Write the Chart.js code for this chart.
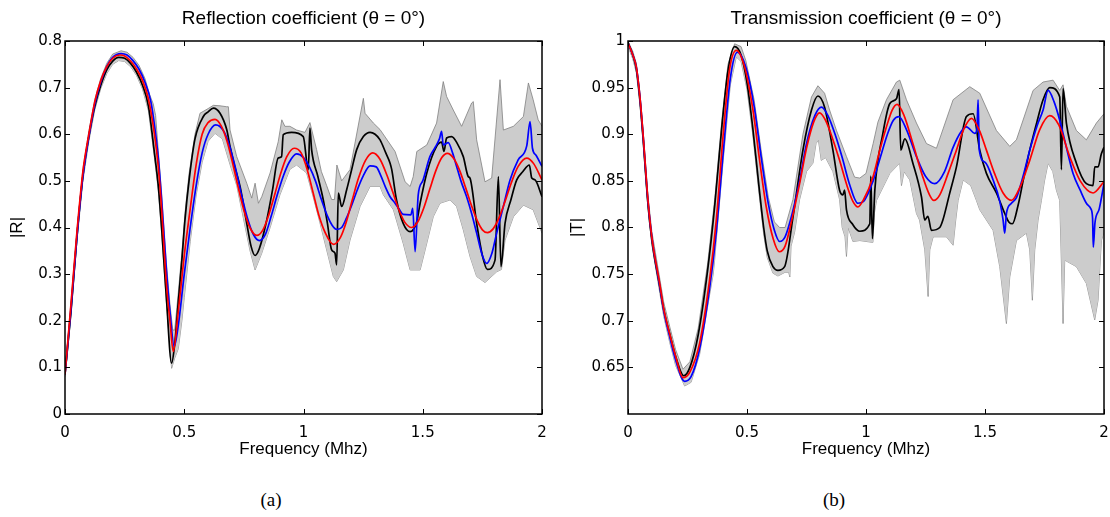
<!DOCTYPE html>
<html>
<head>
<meta charset="utf-8">
<script src="https://cdn.jsdelivr.net/npm/chart.js@4.4.1/dist/chart.umd.min.js"></script>
<style>
  body { margin: 0; background: #fff; width: 1110px; height: 517px; position: relative; overflow: hidden; }
  canvas { position: absolute; top: 0; }
  #reflChart { left: 0; }
  #transChart { left: 555px; }
  .caption { position: absolute; top: 489px; width: 100px; text-align: center;
    font-family: "Liberation Serif", "Times New Roman", serif; font-size: 19px; color: #000; }
</style>
</head>
<body>
<canvas id="reflChart" width="555" height="470"></canvas>
<canvas id="transChart" width="555" height="470"></canvas>
<div class="caption" style="left:221px">(a)</div>
<div class="caption" style="left:784px">(b)</div>
<script>
// tick values
const freqTicks = [0, 0.5, 1, 1.5, 2];
const reflTicks = [0, 0.1, 0.2, 0.3, 0.4, 0.5, 0.6, 0.7, 0.8];
const transTicks = [0.65, 0.7, 0.75, 0.8, 0.85, 0.9, 0.95, 1];

// |R| curves, [frequency MHz, value]
const reflRed = [[0,0.085],[0.025,0.235],[0.05,0.39],[0.075,0.52],[0.1,0.6],[0.125,0.67],[0.15,0.715],[0.175,0.745],[0.2,0.763],[0.23,0.77],[0.25,0.768],[0.275,0.757],[0.3,0.74],[0.325,0.715],[0.35,0.675],[0.375,0.6],[0.391,0.531],[0.405,0.44],[0.425,0.28],[0.44,0.2],[0.454,0.134],[0.475,0.22],[0.5,0.34],[0.525,0.44],[0.55,0.535],[0.575,0.6],[0.6,0.625],[0.629,0.632],[0.655,0.618],[0.68,0.584],[0.7,0.544],[0.725,0.489],[0.75,0.437],[0.775,0.4],[0.804,0.383],[0.83,0.395],[0.855,0.428],[0.88,0.472],[0.905,0.517],[0.93,0.552],[0.961,0.57],[0.99,0.56],[1.015,0.525],[1.04,0.475],[1.065,0.425],[1.09,0.39],[1.125,0.364],[1.155,0.379],[1.18,0.413],[1.205,0.46],[1.23,0.505],[1.26,0.544],[1.29,0.56],[1.32,0.547],[1.35,0.512],[1.375,0.475],[1.4,0.438],[1.425,0.411],[1.453,0.4],[1.48,0.413],[1.505,0.443],[1.53,0.483],[1.555,0.522],[1.58,0.55],[1.603,0.559],[1.63,0.548],[1.655,0.522],[1.68,0.485],[1.705,0.446],[1.73,0.413],[1.75,0.395],[1.771,0.389],[1.795,0.397],[1.82,0.421],[1.845,0.456],[1.87,0.494],[1.9,0.531],[1.936,0.549],[1.965,0.537],[2,0.502]];
const reflBlue = [[0,0.085],[0.025,0.225],[0.05,0.38],[0.075,0.51],[0.1,0.595],[0.125,0.665],[0.15,0.712],[0.175,0.745],[0.2,0.765],[0.235,0.773],[0.26,0.77],[0.285,0.758],[0.31,0.74],[0.335,0.712],[0.36,0.67],[0.375,0.62],[0.391,0.55],[0.405,0.46],[0.425,0.31],[0.44,0.22],[0.458,0.145],[0.475,0.19],[0.5,0.3],[0.525,0.4],[0.55,0.49],[0.575,0.56],[0.6,0.6],[0.632,0.62],[0.665,0.607],[0.69,0.575],[0.715,0.527],[0.74,0.47],[0.765,0.42],[0.79,0.385],[0.815,0.372],[0.84,0.385],[0.865,0.425],[0.89,0.47],[0.915,0.51],[0.94,0.54],[0.971,0.558],[1,0.55],[1.025,0.53],[1.05,0.5],[1.075,0.46],[1.1,0.425],[1.12,0.405],[1.139,0.396],[1.16,0.4],[1.18,0.42],[1.2,0.445],[1.225,0.48],[1.25,0.51],[1.279,0.532],[1.305,0.53],[1.325,0.51],[1.345,0.485],[1.363,0.466],[1.384,0.452],[1.4,0.44],[1.418,0.428],[1.45,0.427],[1.458,0.441],[1.468,0.348],[1.481,0.47],[1.5,0.5],[1.53,0.552],[1.55,0.57],[1.57,0.59],[1.579,0.606],[1.586,0.577],[1.607,0.582],[1.625,0.56],[1.642,0.531],[1.66,0.5],[1.684,0.466],[1.705,0.43],[1.726,0.388],[1.75,0.34],[1.768,0.323],[1.79,0.345],[1.81,0.388],[1.838,0.445],[1.866,0.502],[1.9,0.545],[1.936,0.575],[1.95,0.627],[1.96,0.57],[1.975,0.555],[2,0.531]];
const reflBlack = [[0,0.085],[0.025,0.22],[0.05,0.38],[0.075,0.51],[0.1,0.595],[0.125,0.66],[0.15,0.705],[0.175,0.738],[0.2,0.757],[0.225,0.765],[0.25,0.763],[0.275,0.752],[0.3,0.733],[0.325,0.705],[0.35,0.66],[0.375,0.56],[0.391,0.49],[0.405,0.4],[0.425,0.25],[0.447,0.109],[0.46,0.15],[0.475,0.24],[0.49,0.33],[0.503,0.416],[0.52,0.5],[0.545,0.59],[0.58,0.638],[0.6,0.648],[0.622,0.656],[0.65,0.645],[0.678,0.61],[0.692,0.574],[0.712,0.53],[0.734,0.488],[0.762,0.409],[0.78,0.36],[0.797,0.34],[0.815,0.355],[0.846,0.416],[0.87,0.48],[0.894,0.549],[0.908,0.552],[0.915,0.599],[0.95,0.604],[0.999,0.595],[1.02,0.524],[1.027,0.613],[1.034,0.567],[1.06,0.51],[1.083,0.459],[1.1,0.41],[1.118,0.352],[1.132,0.345],[1.139,0.32],[1.146,0.474],[1.16,0.445],[1.181,0.481],[1.2,0.52],[1.223,0.567],[1.251,0.595],[1.279,0.604],[1.3,0.6],[1.321,0.588],[1.345,0.56],[1.363,0.538],[1.37,0.524],[1.39,0.459],[1.418,0.409],[1.447,0.391],[1.475,0.413],[1.489,0.452],[1.517,0.517],[1.558,0.574],[1.579,0.583],[1.589,0.563],[1.6,0.592],[1.621,0.595],[1.645,0.58],[1.67,0.552],[1.691,0.509],[1.698,0.506],[1.726,0.409],[1.75,0.34],[1.771,0.31],[1.803,0.33],[1.817,0.509],[1.828,0.316],[1.845,0.409],[1.87,0.46],[1.894,0.502],[1.92,0.52],[1.947,0.534],[1.957,0.506],[1.971,0.502],[2,0.466]];
const reflUpper = [[0,0.09],[0.025,0.24],[0.05,0.395],[0.075,0.525],[0.1,0.607],[0.125,0.675],[0.15,0.72],[0.175,0.752],[0.2,0.772],[0.235,0.779],[0.26,0.776],[0.285,0.765],[0.31,0.748],[0.335,0.72],[0.355,0.685],[0.37,0.665],[0.38,0.64],[0.391,0.565],[0.405,0.475],[0.425,0.325],[0.44,0.235],[0.452,0.18],[0.46,0.18],[0.475,0.26],[0.49,0.345],[0.503,0.43],[0.52,0.515],[0.545,0.6],[0.566,0.645],[0.6,0.655],[0.622,0.662],[0.65,0.661],[0.678,0.659],[0.685,0.659],[0.692,0.609],[0.72,0.552],[0.762,0.495],[0.783,0.463],[0.797,0.495],[0.811,0.452],[0.825,0.466],[0.86,0.517],[0.894,0.584],[0.909,0.631],[0.922,0.617],[0.943,0.617],[0.971,0.609],[1.006,0.604],[1.027,0.625],[1.055,0.567],[1.075,0.52],[1.097,0.49],[1.118,0.46],[1.13,0.46],[1.14,0.534],[1.16,0.5],[1.195,0.524],[1.251,0.677],[1.258,0.645],[1.293,0.624],[1.321,0.61],[1.384,0.563],[1.426,0.498],[1.447,0.488],[1.46,0.509],[1.475,0.563],[1.517,0.577],[1.558,0.624],[1.586,0.713],[1.6,0.681],[1.628,0.652],[1.663,0.617],[1.705,0.667],[1.712,0.67],[1.726,0.588],[1.761,0.498],[1.789,0.506],[1.824,0.717],[1.838,0.609],[1.88,0.617],[1.922,0.638],[1.943,0.71],[1.963,0.674],[1.984,0.631],[2,0.617]];
const reflLower = [[0,0.08],[0.025,0.21],[0.05,0.37],[0.075,0.5],[0.1,0.585],[0.125,0.653],[0.15,0.698],[0.175,0.73],[0.2,0.75],[0.225,0.758],[0.25,0.756],[0.275,0.745],[0.3,0.726],[0.325,0.697],[0.35,0.65],[0.375,0.55],[0.391,0.48],[0.405,0.39],[0.425,0.24],[0.447,0.098],[0.46,0.12],[0.475,0.14],[0.49,0.2],[0.5,0.25],[0.525,0.37],[0.55,0.47],[0.575,0.54],[0.6,0.585],[0.629,0.602],[0.66,0.59],[0.692,0.535],[0.72,0.49],[0.748,0.42],[0.776,0.35],[0.797,0.309],[0.825,0.345],[0.86,0.4],[0.901,0.47],[0.943,0.525],[0.971,0.534],[1.013,0.517],[1.041,0.465],[1.069,0.41],[1.104,0.338],[1.125,0.295],[1.139,0.284],[1.167,0.309],[1.195,0.373],[1.237,0.445],[1.279,0.488],[1.321,0.488],[1.335,0.47],[1.377,0.438],[1.418,0.366],[1.447,0.309],[1.489,0.309],[1.51,0.352],[1.544,0.423],[1.572,0.452],[1.614,0.459],[1.642,0.445],[1.67,0.395],[1.698,0.338],[1.726,0.295],[1.761,0.282],[1.81,0.305],[1.83,0.31],[1.845,0.373],[1.88,0.423],[1.922,0.448],[1.963,0.438],[2,0.388]];

// |T| curves, [frequency MHz, value]
const transRed = [[0,0.998],[0.02,0.985],[0.035,0.972],[0.05,0.94],[0.063,0.901],[0.084,0.829],[0.1,0.79],[0.133,0.74],[0.15,0.713],[0.175,0.686],[0.2,0.662],[0.231,0.639],[0.26,0.645],[0.301,0.676],[0.343,0.744],[0.371,0.808],[0.4,0.9],[0.427,0.97],[0.455,0.99],[0.49,0.972],[0.525,0.926],[0.553,0.872],[0.581,0.822],[0.61,0.788],[0.636,0.774],[0.66,0.78],[0.69,0.81],[0.721,0.847],[0.75,0.885],[0.78,0.913],[0.805,0.923],[0.83,0.915],[0.86,0.895],[0.889,0.872],[0.92,0.845],[0.945,0.828],[0.966,0.822],[0.99,0.83],[1.029,0.854],[1.06,0.885],[1.086,0.908],[1.11,0.926],[1.131,0.932],[1.16,0.92],[1.197,0.89],[1.239,0.854],[1.265,0.836],[1.285,0.829],[1.31,0.835],[1.345,0.858],[1.38,0.883],[1.41,0.905],[1.443,0.917],[1.475,0.905],[1.506,0.883],[1.54,0.858],[1.576,0.837],[1.611,0.829],[1.65,0.845],[1.688,0.872],[1.73,0.905],[1.772,0.92],[1.81,0.91],[1.856,0.876],[1.9,0.85],[1.954,0.837],[2,0.849]];
const transBlue = [[0,0.998],[0.02,0.985],[0.035,0.972],[0.05,0.94],[0.063,0.9],[0.084,0.828],[0.1,0.79],[0.133,0.738],[0.15,0.711],[0.175,0.683],[0.2,0.658],[0.238,0.635],[0.265,0.64],[0.301,0.67],[0.343,0.735],[0.371,0.795],[0.4,0.88],[0.43,0.96],[0.46,0.988],[0.495,0.972],[0.53,0.93],[0.56,0.875],[0.59,0.825],[0.615,0.797],[0.637,0.785],[0.66,0.79],[0.69,0.815],[0.721,0.85],[0.75,0.89],[0.785,0.92],[0.813,0.929],[0.84,0.92],[0.87,0.9],[0.9,0.875],[0.93,0.847],[0.966,0.826],[0.99,0.828],[1.03,0.85],[1.06,0.875],[1.09,0.9],[1.115,0.915],[1.138,0.919],[1.17,0.905],[1.212,0.876],[1.25,0.855],[1.289,0.847],[1.33,0.86],[1.366,0.886],[1.4,0.903],[1.422,0.908],[1.457,0.901],[1.466,0.905],[1.471,0.937],[1.476,0.883],[1.5,0.87],[1.534,0.851],[1.562,0.828],[1.576,0.808],[1.583,0.794],[1.59,0.815],[1.611,0.826],[1.632,0.832],[1.66,0.855],[1.688,0.883],[1.72,0.91],[1.744,0.926],[1.765,0.947],[1.79,0.935],[1.814,0.915],[1.84,0.888],[1.87,0.858],[1.9,0.84],[1.926,0.826],[1.945,0.82],[1.952,0.81],[1.955,0.779],[1.962,0.805],[1.98,0.82],[2,0.847]];
const transBlack = [[0,0.998],[0.02,0.985],[0.035,0.97],[0.05,0.937],[0.063,0.897],[0.084,0.825],[0.1,0.787],[0.133,0.737],[0.15,0.712],[0.175,0.686],[0.2,0.662],[0.234,0.641],[0.26,0.65],[0.295,0.685],[0.335,0.755],[0.365,0.825],[0.395,0.91],[0.42,0.968],[0.448,0.994],[0.475,0.985],[0.5,0.955],[0.525,0.905],[0.55,0.845],[0.57,0.8],[0.585,0.775],[0.609,0.758],[0.63,0.754],[0.658,0.758],[0.693,0.811],[0.735,0.883],[0.771,0.926],[0.798,0.941],[0.826,0.929],[0.861,0.883],[0.889,0.84],[0.903,0.835],[0.91,0.84],[0.918,0.819],[0.945,0.803],[0.974,0.796],[1.016,0.804],[1.02,0.855],[1.027,0.788],[1.037,0.84],[1.071,0.901],[1.1,0.933],[1.128,0.938],[1.139,0.948],[1.146,0.883],[1.163,0.895],[1.197,0.869],[1.233,0.833],[1.247,0.808],[1.26,0.812],[1.275,0.797],[1.31,0.8],[1.323,0.808],[1.35,0.835],[1.38,0.865],[1.422,0.919],[1.45,0.922],[1.478,0.883],[1.506,0.858],[1.548,0.837],[1.583,0.815],[1.6,0.806],[1.615,0.804],[1.64,0.825],[1.66,0.85],[1.688,0.883],[1.72,0.915],[1.744,0.937],[1.772,0.95],[1.814,0.94],[1.821,0.862],[1.828,0.949],[1.842,0.912],[1.884,0.869],[1.926,0.847],[1.954,0.845],[1.961,0.865],[1.975,0.865],[1.989,0.879],[2,0.886]];
const transUpper = [[0,1],[0.02,0.989],[0.035,0.976],[0.05,0.945],[0.063,0.906],[0.084,0.834],[0.1,0.796],[0.133,0.746],[0.15,0.72],[0.175,0.694],[0.2,0.669],[0.231,0.648],[0.26,0.656],[0.295,0.692],[0.335,0.762],[0.365,0.832],[0.395,0.917],[0.42,0.975],[0.448,0.997],[0.475,0.994],[0.495,0.979],[0.53,0.937],[0.56,0.882],[0.59,0.832],[0.615,0.806],[0.637,0.8],[0.66,0.8],[0.693,0.83],[0.735,0.9],[0.771,0.94],[0.798,0.952],[0.826,0.944],[0.847,0.926],[0.876,0.904],[0.918,0.876],[0.952,0.854],[0.974,0.853],[1,0.858],[1.03,0.89],[1.05,0.913],[1.086,0.937],[1.128,0.956],[1.142,0.958],[1.17,0.937],[1.212,0.912],[1.254,0.89],[1.296,0.885],[1.366,0.937],[1.436,0.951],[1.478,0.944],[1.548,0.904],[1.604,0.887],[1.632,0.894],[1.702,0.947],[1.744,0.956],[1.786,0.958],[1.814,0.947],[1.828,0.953],[1.842,0.93],[1.884,0.904],[1.926,0.894],[1.968,0.912],[2,0.922]];
const transLower = [[0,0.994],[0.02,0.981],[0.035,0.966],[0.05,0.932],[0.063,0.892],[0.084,0.82],[0.1,0.782],[0.133,0.731],[0.15,0.705],[0.175,0.677],[0.2,0.652],[0.238,0.63],[0.265,0.634],[0.301,0.664],[0.343,0.728],[0.358,0.75],[0.364,0.765],[0.371,0.787],[0.4,0.872],[0.43,0.953],[0.455,0.983],[0.475,0.978],[0.5,0.948],[0.525,0.898],[0.55,0.838],[0.57,0.793],[0.585,0.768],[0.609,0.751],[0.63,0.748],[0.66,0.752],[0.675,0.752],[0.68,0.747],[0.685,0.78],[0.7,0.795],[0.721,0.83],[0.75,0.86],[0.777,0.869],[0.79,0.89],[0.8,0.894],[0.812,0.872],[0.83,0.875],[0.861,0.86],[0.889,0.83],[0.9,0.8],[0.912,0.79],[0.918,0.769],[0.925,0.8],[0.945,0.785],[0.974,0.786],[1.029,0.784],[1.035,0.815],[1.044,0.829],[1.1,0.858],[1.142,0.869],[1.149,0.845],[1.16,0.86],[1.184,0.851],[1.212,0.815],[1.225,0.808],[1.247,0.776],[1.261,0.726],[1.268,0.776],[1.282,0.79],[1.338,0.79],[1.366,0.781],[1.377,0.808],[1.387,0.829],[1.408,0.851],[1.44,0.845],[1.464,0.829],[1.478,0.819],[1.534,0.797],[1.562,0.758],[1.59,0.697],[1.604,0.747],[1.632,0.786],[1.674,0.794],[1.688,0.776],[1.699,0.722],[1.709,0.776],[1.723,0.808],[1.737,0.829],[1.75,0.85],[1.765,0.869],[1.785,0.86],[1.8,0.84],[1.814,0.829],[1.828,0.697],[1.835,0.765],[1.849,0.763],[1.884,0.758],[1.926,0.74],[1.961,0.701],[1.975,0.722],[1.989,0.786],[2,0.795]];

const SANS = "'Liberation Sans', Arial, sans-serif";
const TICK_FONT = { family: "'DejaVu Sans', sans-serif", size: 15 };
const BAND_FILL = "rgb(204,204,204)";
const BAND_EDGE = "rgb(128,128,128)";

function toPoints(pairs) {
  return pairs.map(([x, y]) => ({ x, y }));
}

function curve(pairs, color) {
  return {
    data: toPoints(pairs),
    borderColor: color,
    borderWidth: 1.7,
    pointRadius: 0,
    fill: false,
    cubicInterpolationMode: "monotone",
  };
}

// matlab style box with inward ticks on all four sides
const boxTicks = {
  id: "boxTicks",
  afterDatasetsDraw(chart) {
    const { ctx, chartArea: a, scales } = chart;
    const len = 5;
    ctx.save();
    ctx.strokeStyle = "#000";
    ctx.lineWidth = 1;
    ctx.beginPath();
    scales.x.ticks.forEach((t) => {
      const px = Math.round(scales.x.getPixelForValue(t.value)) + 0.5;
      ctx.moveTo(px, a.bottom);
      ctx.lineTo(px, a.bottom - len);
      ctx.moveTo(px, a.top);
      ctx.lineTo(px, a.top + len);
    });
    scales.y.ticks.forEach((t) => {
      const py = Math.round(scales.y.getPixelForValue(t.value)) + 0.5;
      ctx.moveTo(a.left, py);
      ctx.lineTo(a.left + len, py);
      ctx.moveTo(a.right, py);
      ctx.lineTo(a.right - len, py);
    });
    ctx.stroke();
    ctx.lineWidth = 1.5;
    ctx.strokeRect(a.left, a.top, a.right - a.left, a.bottom - a.top);
    ctx.restore();
  },
};

function buildChart(canvasId, cfg) {
  return new Chart(document.getElementById(canvasId), {
    type: "line",
    data: {
      datasets: [
        curve(cfg.red, "#ff0000"),
        curve(cfg.blue, "#0000ff"),
        curve(cfg.black, "#000000"),
        {
          data: toPoints(cfg.upper),
          borderColor: BAND_EDGE,
          borderWidth: 0.8,
          backgroundColor: BAND_FILL,
          fill: "+1",
          pointRadius: 0,
          tension: 0,
        },
        {
          data: toPoints(cfg.lower),
          borderColor: BAND_EDGE,
          borderWidth: 0.8,
          fill: false,
          pointRadius: 0,
          tension: 0,
        },
      ],
    },
    options: {
      responsive: false,
      animation: false,
      devicePixelRatio: 1,
      layout: { padding: { left: 0, right: cfg.padRight, top: 0, bottom: 0 } },
      plugins: {
        legend: { display: false },
        tooltip: { enabled: false },
        title: {
          display: true,
          text: cfg.title,
          fullSize: false,
          color: "#000",
          font: { family: SANS, size: 19, weight: "normal" },
          padding: { top: 7, bottom: 11.2 },
        },
      },
      scales: {
        x: {
          type: "linear",
          min: 0,
          max: 2,
          afterBuildTicks: (s) => { s.ticks = freqTicks.map((v) => ({ value: v })); },
          afterFit: (s) => {
            s.height = 56;
            // the "2" label only needs half its width, not the tick padding too
            s.paddingLeft = 5;
            s.paddingRight = 5;
          },
          grid: { display: false, drawTicks: false },
          border: { display: false },
          ticks: { padding: 10, color: "#000", font: TICK_FONT, autoSkip: false, maxRotation: 0,
            callback: (v) => String(v) },
          title: { display: true, text: "Frequency (Mhz)", color: "#000",
            font: { family: SANS, size: 17 }, padding: { top: 0, bottom: 10.8 } },
        },
        y: {
          type: "linear",
          min: cfg.yMin,
          max: cfg.yMax,
          afterBuildTicks: (s) => { s.ticks = cfg.ticks.map((v) => ({ value: v })); },
          afterFit: (s) => { s.width = cfg.yWidth; },
          grid: { display: false, drawTicks: false },
          border: { display: false },
          ticks: { padding: 3, color: "#000", font: TICK_FONT, autoSkip: false,
            callback: (v) => String(v) },
          title: { display: true, text: cfg.yLabel, color: "#000",
            font: { family: SANS, size: 17 }, padding: { top: cfg.yTitlePad, bottom: 0 } },
        },
      },
    },
    plugins: [boxTicks],
  });
}

buildChart("reflChart", {
  title: "Reflection coefficient (θ = 0°)",
  yLabel: "|R|",
  red: reflRed, blue: reflBlue, black: reflBlack, upper: reflUpper, lower: reflLower,
  ticks: reflTicks, yMin: 0, yMax: 0.8,
  yWidth: 65, yTitlePad: 6.8, padRight: 13,
});

buildChart("transChart", {
  title: "Transmission coefficient (θ = 0°)",
  yLabel: "|T|",
  red: transRed, blue: transBlue, black: transBlack, upper: transUpper, lower: transLower,
  ticks: transTicks, yMin: 0.6, yMax: 1,
  yWidth: 73, yTitlePad: 11.8, padRight: 6,
});
</script>
</body>
</html>
